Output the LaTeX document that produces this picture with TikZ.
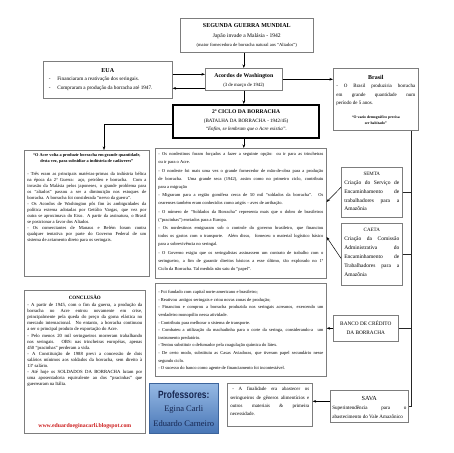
\documentclass[tikz,border=0pt]{standalone}
\usepackage{fontspec}
\setmainfont{Liberation Serif}
\newfontfamily\profont[FakeStretch=0.8]{Liberation Sans}
\usetikzlibrary{arrows.meta,calc}
\definecolor{boxgray}{RGB}{125,125,125}
\definecolor{linkred}{RGB}{205,30,30}
\definecolor{navytext}{RGB}{22,38,80}
\definecolor{blueA}{RGB}{150,185,228}
\definecolor{blueB}{RGB}{72,118,182}
\newcommand{\fs}[2]{\fontsize{#1}{#2}\selectfont}
\newcommand{\pbox}[3]{\parbox[c][#2][t]{#1}{\parindent=0pt\tolerance=10000\hyphenpenalty=10000\exhyphenpenalty=10000\hbadness=10000 #3}}
\begin{document}
\begin{tikzpicture}[x=1pt,y=-1pt,
  box/.style={draw=boxgray, line width=0.6pt, fill=white, inner xsep=3pt, inner ysep=0pt, anchor=north west},
  ciclobox/.style={draw=black, line width=2.2pt, fill=white, inner xsep=3pt, inner ysep=0pt, anchor=north west},
  profbox/.style={draw=blueB!85!black, line width=0.5pt, top color=blueA, bottom color=blueB, inner sep=0pt, anchor=north west},
  arr/.style={-{Stealth[length=3.5pt,width=2.6pt]}, line width=0.5pt, black},
  conn/.style={line width=0.5pt, black!85}]
\fill[white] (0,0) rectangle (453,453);
\useasboundingbox (0,0) rectangle (453,453);

% top
\node[box] (top) at (180,18) {\pbox{127pt}{34pt}{\centering\vspace*{4.8pt}%
{\fs{6}{9}\bfseries SEGUNDA GUERRA MUNDIAL\par}%
{\fs{5.6}{10}Japão invade a Malásia - 1942\par}%
{\fs{4.6}{9.5}(maior fornecedora de borracha natural aos “Aliados”)\par}}};

% EUA
\node[box] (eua) at (43,61) {\pbox{123pt}{37pt}{\vspace*{6.8pt}%
{\centering\fs{6}{8}\bfseries EUA\par}%
\fs{5.2}{8.7}\hspace*{2.5pt}-\hspace{6.8pt}Financiaram a reativação dos seringais.\par
\hspace*{2.5pt}-\hspace{6.8pt}Compraram a produção da borracha até 1947.\par}};

% Acordos
\node[box] (acordos) at (205,68) {\pbox{71pt}{22pt}{\centering\vspace*{5pt}%
{\fs{5.8}{8}\bfseries Acordos de Washington\par}%
{\fs{4.8}{9.5}(3 de março de 1942)\par}}};

% Brasil
\node[box] (brasil) at (333,68) {\pbox{79pt}{62pt}{\vspace*{6.8pt}%
{\centering\fs{6}{8}\bfseries Brasil\par}%
{\fs{5}{8.5}- O Brasil produziria borracha\linebreak em grande quantidade num\linebreak período de 5 anos.\par}%
\vspace{8pt}%
{\centering\fs{3.8}{6}\bfseries “O vazio demográfico precisa\\ ser habitado”\par}}};

% 2o ciclo
\node[ciclobox] (ciclo) at (172,104) {\pbox{140pt}{33pt}{\centering\vspace*{5pt}%
{\fs{5.6}{8}\bfseries 2º CICLO DA BORRACHA\par}%
{\fs{5}{8.5}(BATALHA DA BORRACHA - 1942/45)\par}%
{\fs{5}{8.5}\itshape “Enfim, se lembram que o Acre existia”.\par}}};

% left box 1
\node[box] (lb1) at (24,150) {\pbox{119pt}{126pt}{\vspace*{3.4pt}%
{\centering\fs{4.3}{6}\bfseries “O Acre volta a produzir borracha em grande quantidade,\\ desta vez, para subsidiar a indústria de cadáveres”\par}%
\vspace{6.5pt}%
\fs{4.6}{6}- Três eram as principais matérias-primas da indústria bélica\linebreak
na época da 2ª Guerra: aço, petróleo e borracha. Com a\linebreak
invasão da Malásia pelos japoneses, o grande problema para\linebreak
os “aliados” passou a ser a diminuição nos estoques de\linebreak
borracha. A borracha foi considerada “nervo da guerra”.\par
- Os Acordos de Washington pôs fim às ambiguidades da\linebreak
política externa adotadas por Getúlio Vargas, que vez por\linebreak
outra se aproximava do Eixo. A partir da assinatura, o Brasil\linebreak
se posicionar a favor dos Aliados.\par
- Os comerciantes de Manaus e Belém foram contra\linebreak
qualquer tentativa por parte do Governo Federal de um\linebreak
sistema de aviamento direto para os seringais.\par}};

% center box 1
\node[box] (c1) at (155,148) {\pbox{165pt}{130pt}{\fs{4.5}{8.2}\vspace*{4.3pt}%
- Os nordestinos foram forçados a fazer a seguinte opção: ou ir para as trincheiras\linebreak
ou ir para o Acre.\par
- O nordeste foi mais uma vez o grande fornecedor de mão-de-obra para a produção\linebreak
de borracha.\ \ Uma grande seca (1942), assim como no primeiro ciclo, contribuiu\linebreak
para a migração\par
- Migraram para a região gomífera cerca de 50 mil “soldados da borracha”. Os\linebreak
cearenses também eram conhecidos como arigós – aves de arribação.\par
- O número de “Soldados da Borracha” representa mais que o dobro de brasileiros\linebreak
(“pracinhas”) enviados para a Europa.\par
- Os nordestinos emigraram sob o controle do governo brasileiro, que financiou\linebreak
todos os gastos com o transporte. Além disso,\ \ forneceu o material logístico básico\linebreak
para a sobrevivência no seringal.\par
- O Governo exigiu que os seringalistas assinassem um contrato de trabalho com o\linebreak
seringueiro, a fim de garantir direitos básicos a esse último, tão explorado no 1º\linebreak
Ciclo da Borracha. Tal medida não saiu do “papel”.\par}};

% center box 2
\node[box] (c2) at (155,283) {\pbox{165pt}{93pt}{\fs{4.5}{7.6}\vspace*{7.3pt}%
- Foi fundado com capital norte-americano e brasileiro;\par
- Reativou\ \ antigos seringais e criou novas zonas de produção;\par
- Financiou e comprou a borracha produzida nos seringais acreanos, exercendo um\linebreak
verdadeiro monopólio nessa atividade.\par
- Contribuiu para melhorar o sistema de transporte.\par
- Combateu a utilização da machadinha para o corte da seringa, considerando-a\ \ um\linebreak
instrumento predatório.\par
- Tentou substituir o defumador pela coagulação química do látex.\par
- De certo modo, substituiu as Casas Aviadoras, que tiveram papel secundário nesse\linebreak
segundo ciclo.\par
- O sucesso do banco como agente de financiamento foi incontestável.\par}};

% conclusao
\node[box] (concl) at (24,290) {\pbox{115pt}{143pt}{\vspace*{5pt}%
{\centering\fs{5}{7}\bfseries CONCLUSÃO\par}%
\vspace{0.9pt}%
\fs{4.7}{6.1}- A partir de 1945, com o fim da guerra, a produção da\linebreak
borracha no Acre entrou novamente em crise,\linebreak
principalmente pela queda do preço da goma elástica no\linebreak
mercado internacional. No entanto, a borracha continuou\linebreak
a ser o principal produto de exportação do Acre.\par
- Pelo menos 20 mil seringueiros morreram trabalhando\linebreak
nos seringais. OBS: nas trincheiras européias, apenas\linebreak
450 “pracinhas” perderam a vida.\par
- A Constituição de 1988 previ a concessão de dois\linebreak
salários mínimos aos soldados da borracha, sem direito à\linebreak
13º salário.\par
- Até hoje os SOLDADOS DA BORRACHA lutam por\linebreak
uma aposentadoria equivalente ao dos “pracinhas” que\linebreak
guerrearam na Itália.\par
\vspace{36pt}%
{\centering\fs{5.8}{6}\bfseries\color{linkred}www.eduardoeginacarli.blogspot.com\par}}};

% SEMTA
\node[box] (semta) at (341,167) {\pbox{55pt}{50pt}{\vspace*{5pt}%
{\centering\fs{5}{8}SEMTA\par}%
\fs{5.5}{8.8}Criação do Serviço de\linebreak Encaminhamento de\linebreak trabalhadores para a\linebreak Amazônia\par}};

% CAETA
\node[box] (caeta) at (341,223) {\pbox{55pt}{62pt}{\vspace*{5pt}%
{\centering\fs{5}{8}CAETA\par}%
\fs{5.5}{9}Criação da Comissão\linebreak Administrativa do\linebreak Encaminhamento de\linebreak Trabalhadores para a\linebreak Amazônia\par}};

% BANCO
\node[box] (banco) at (333,315) {\pbox{59pt}{26pt}{\centering\vspace*{6pt}%
\fs{5.3}{9}BANCO DE CRÉDITO\\ DA BORRACHA\par}};

% SAVA
\node[box, inner xsep=2pt] (sava) at (330,390) {\pbox{74pt}{32pt}{\vspace*{5.7pt}%
{\centering\fs{6.2}{8}SAVA\par}%
\fs{5.1}{9.2}Superintendência para o\linebreak abastecimento do Vale Amazônico\par}};

% finalidade
\node[box] (fin) at (227,383) {\pbox{79pt}{43pt}{\vspace*{4pt}%
\fs{4.9}{8.3}\hspace*{2pt}- A finalidade era abastecer os\linebreak seringueiros de gêneros alimentícios e\linebreak outros materiais \& primeira\linebreak necessidade.\par}};

% professores
\node[profbox] (prof) at (149,383) {\pbox{69pt}{50pt}{\centering\color{navytext}\vspace*{7.5pt}%
{\profont\fontsize{10.5}{12}\selectfont\bfseries Professores:\par}%
{\fs{8.5}{13.5}Egina Carli\par}%
{\fs{8.5}{14.5}Eduardo Carneiro\par}}};

% connectors
\draw[arr] (acordos.north |- top.south) -- (acordos.north);
\coordinate (e1) at ($(eua.east)+(0,-5.5)$);
\coordinate (e2) at ($(eua.east)+(0,8.5)$);
\draw[arr] (e1) -- (e1 -| acordos.west);
\draw[arr] (e2 -| acordos.west) -- (e2);
\draw[arr] (acordos.east) -- (acordos.east -| brasil.west);
\draw[arr] (acordos.south) -- (acordos.south |- ciclo.north);
\draw[arr] (acordos.south |- ciclo.south) -- (acordos.south |- c1.north);
\coordinate (cw) at ($(ciclo.west)+(0,2.5)$);
\coordinate (l1) at ($(lb1.north west)+(80,0)$);
\draw[arr] (cw) -| (l1);

\coordinate (bv) at ($(brasil.south east)+(-7,0)$);
\draw[conn] (bv) |- (sava.east);
\draw[conn] (semta.east) -- (semta.east -| bv);
\draw[conn] (caeta.east) -- (caeta.east -| bv);
\draw[conn] (banco.east) -- (banco.east -| bv);

\coordinate (s1) at ($(semta.west)+(0,-5)$);
\coordinate (s2) at ($(c1.north east)+(0,54)$);
\draw[arr] (s1) -- (s2);
\coordinate (k1) at ($(caeta.west)+(0,4)$);
\coordinate (k2) at ($(c1.north east)+(0,89)$);
\draw[arr] (k1) -- (k2);
\draw[arr] (banco.west) -- (banco.west -| c2.east);
\coordinate (v1) at ($(sava.west)+(0,-5)$);
\draw[arr] (v1) -- (v1 -| fin.east);
\end{tikzpicture}
\end{document}
